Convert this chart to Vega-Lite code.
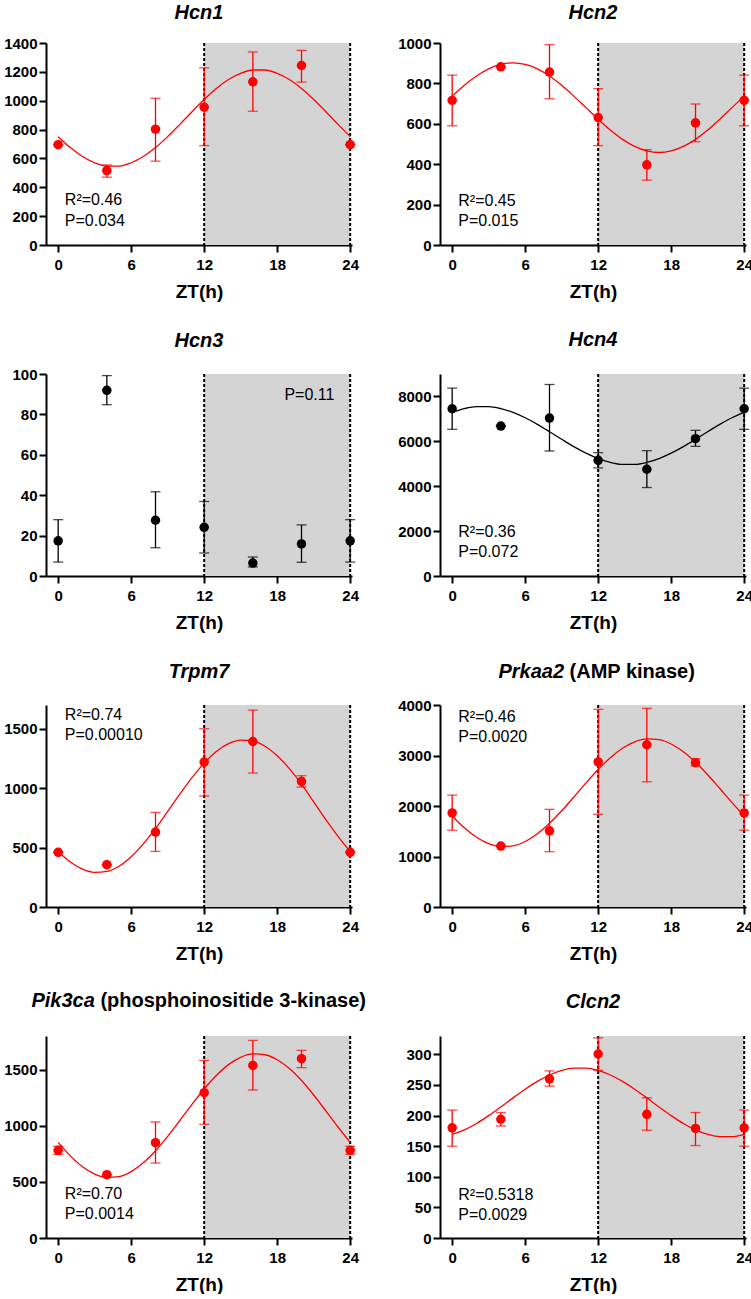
{
  "$schema": "https://vega.github.io/schema/vega-lite/v6.json",
  "background": "white",
  "padding": {"left": 3, "top": 3, "right": 0, "bottom": 0},
  "config": {
    "view": {"stroke": null},
    "font": "Liberation Sans",
    "axis": {"domainColor": "black", "domainWidth": 2, "tickColor": "black", "tickWidth": 2, "tickSize": 7, "labelFont": "Liberation Sans", "labelFontWeight": "bold", "labelFontSize": 15, "labelColor": "black", "labelOverlap": false, "grid": false, "titleFont": "Liberation Sans", "titleFontWeight": "bold", "titleFontSize": 19, "titleColor": "black", "tickCount": 20},
    "axisX": {"labelPadding": 5, "titlePadding": 10, "labelFlush": false},
    "axisY": {"labelPadding": 2},
    "title": {"font": "Liberation Sans", "fontSize": 20, "fontWeight": "bold", "fontStyle": "italic", "color": "black", "anchor": "middle", "frame": "group", "offset": 14}
  },
  "datasets": {
    "dark": [{"zt": 12, "zt_end": 24}],
    "lines": [{"zt": 12}, {"zt": 24}],
    "one": [{}],
    "hcn1_pts": [
      {"zt": 0, "mean": 695, "lo": 695, "hi": 695},
      {"zt": 4, "mean": 516, "lo": 470, "hi": 555},
      {"zt": 8, "mean": 803, "lo": 581, "hi": 1017},
      {"zt": 12, "mean": 955, "lo": 689, "hi": 1228},
      {"zt": 16, "mean": 1131, "lo": 927, "hi": 1338},
      {"zt": 20, "mean": 1244, "lo": 1129, "hi": 1349},
      {"zt": 24, "mean": 695, "lo": 695, "hi": 695}
    ],
    "hcn1_fit": [
      {"zt": 0, "value": 751}, {"zt": 1, "value": 675}, {"zt": 2, "value": 613}, {"zt": 3, "value": 570}, {"zt": 4, "value": 547}, {"zt": 5, "value": 547}, {"zt": 6, "value": 570}, {"zt": 7, "value": 613}, {"zt": 8, "value": 675}, {"zt": 9, "value": 751}, {"zt": 10, "value": 836}, {"zt": 11, "value": 924}, {"zt": 12, "value": 1009}, {"zt": 13, "value": 1085}, {"zt": 14, "value": 1147}, {"zt": 15, "value": 1190}, {"zt": 16, "value": 1213}, {"zt": 17, "value": 1213}, {"zt": 18, "value": 1190}, {"zt": 19, "value": 1147}, {"zt": 20, "value": 1085}, {"zt": 21, "value": 1009}, {"zt": 22, "value": 924}, {"zt": 23, "value": 836}, {"zt": 24, "value": 751}
    ],
    "hcn2_pts": [
      {"zt": 0, "mean": 716, "lo": 590, "hi": 841},
      {"zt": 4, "mean": 882, "lo": 882, "hi": 882},
      {"zt": 8, "mean": 856, "lo": 724, "hi": 992},
      {"zt": 12, "mean": 631, "lo": 492, "hi": 774},
      {"zt": 16, "mean": 397, "lo": 321, "hi": 472},
      {"zt": 20, "mean": 605, "lo": 511, "hi": 698},
      {"zt": 24, "mean": 716, "lo": 590, "hi": 841}
    ],
    "hcn2_fit": [
      {"zt": 0, "value": 737}, {"zt": 1, "value": 791}, {"zt": 2, "value": 837}, {"zt": 3, "value": 872}, {"zt": 4, "value": 894}, {"zt": 5, "value": 902}, {"zt": 6, "value": 894}, {"zt": 7, "value": 872}, {"zt": 8, "value": 837}, {"zt": 9, "value": 791}, {"zt": 10, "value": 737}, {"zt": 11, "value": 680}, {"zt": 12, "value": 623}, {"zt": 13, "value": 569}, {"zt": 14, "value": 523}, {"zt": 15, "value": 488}, {"zt": 16, "value": 466}, {"zt": 17, "value": 458}, {"zt": 18, "value": 466}, {"zt": 19, "value": 488}, {"zt": 20, "value": 523}, {"zt": 21, "value": 569}, {"zt": 22, "value": 623}, {"zt": 23, "value": 680}, {"zt": 24, "value": 737}
    ],
    "hcn3_pts": [
      {"zt": 0, "mean": 17.4, "lo": 6.9, "hi": 27.9},
      {"zt": 4, "mean": 91.9, "lo": 84.8, "hi": 99.2},
      {"zt": 8, "mean": 27.6, "lo": 14.0, "hi": 41.7},
      {"zt": 12, "mean": 24.1, "lo": 11.4, "hi": 36.9},
      {"zt": 16, "mean": 6.4, "lo": 4.5, "hi": 9.4},
      {"zt": 20, "mean": 15.9, "lo": 6.8, "hi": 25.3},
      {"zt": 24, "mean": 17.4, "lo": 6.9, "hi": 27.9}
    ],
    "hcn4_pts": [
      {"zt": 0, "mean": 7452, "lo": 6533, "hi": 8370},
      {"zt": 4, "mean": 6681, "lo": 6681, "hi": 6681},
      {"zt": 8, "mean": 7037, "lo": 5570, "hi": 8533},
      {"zt": 12, "mean": 5156, "lo": 4815, "hi": 5496},
      {"zt": 16, "mean": 4756, "lo": 3941, "hi": 5585},
      {"zt": 20, "mean": 6119, "lo": 5778, "hi": 6489},
      {"zt": 24, "mean": 7452, "lo": 6533, "hi": 8370}
    ],
    "hcn4_fit": [
      {"zt": 0, "value": 7288}, {"zt": 1, "value": 7457}, {"zt": 2, "value": 7545}, {"zt": 3, "value": 7545}, {"zt": 4, "value": 7457}, {"zt": 5, "value": 7288}, {"zt": 6, "value": 7049}, {"zt": 7, "value": 6756}, {"zt": 8, "value": 6429}, {"zt": 9, "value": 6091}, {"zt": 10, "value": 5764}, {"zt": 11, "value": 5471}, {"zt": 12, "value": 5232}, {"zt": 13, "value": 5063}, {"zt": 14, "value": 4975}, {"zt": 15, "value": 4975}, {"zt": 16, "value": 5063}, {"zt": 17, "value": 5232}, {"zt": 18, "value": 5471}, {"zt": 19, "value": 5764}, {"zt": 20, "value": 6091}, {"zt": 21, "value": 6429}, {"zt": 22, "value": 6756}, {"zt": 23, "value": 7049}, {"zt": 24, "value": 7288}
    ],
    "trpm7_pts": [
      {"zt": 0, "mean": 460, "lo": 460, "hi": 460},
      {"zt": 4, "mean": 356, "lo": 356, "hi": 356},
      {"zt": 8, "mean": 631, "lo": 468, "hi": 796},
      {"zt": 12, "mean": 1220, "lo": 934, "hi": 1500},
      {"zt": 16, "mean": 1393, "lo": 1127, "hi": 1657},
      {"zt": 20, "mean": 1057, "lo": 1009, "hi": 1105},
      {"zt": 24, "mean": 460, "lo": 460, "hi": 460}
    ],
    "trpm7_fit": [
      {"zt": 0, "value": 468}, {"zt": 1, "value": 378}, {"zt": 2, "value": 318}, {"zt": 3, "value": 291}, {"zt": 4, "value": 299}, {"zt": 5, "value": 343}, {"zt": 6, "value": 423}, {"zt": 7, "value": 531}, {"zt": 8, "value": 661}, {"zt": 9, "value": 804}, {"zt": 10, "value": 950}, {"zt": 11, "value": 1089}, {"zt": 12, "value": 1211}, {"zt": 13, "value": 1309}, {"zt": 14, "value": 1375}, {"zt": 15, "value": 1405}, {"zt": 16, "value": 1398}, {"zt": 17, "value": 1353}, {"zt": 18, "value": 1273}, {"zt": 19, "value": 1165}, {"zt": 20, "value": 1035}, {"zt": 21, "value": 885}, {"zt": 22, "value": 735}, {"zt": 23, "value": 595}, {"zt": 24, "value": 468}
    ],
    "prkaa2_pts": [
      {"zt": 0, "mean": 1862, "lo": 1521, "hi": 2216},
      {"zt": 4, "mean": 1206, "lo": 1206, "hi": 1206},
      {"zt": 8, "mean": 1508, "lo": 1095, "hi": 1934},
      {"zt": 12, "mean": 2872, "lo": 1836, "hi": 3915},
      {"zt": 16, "mean": 3213, "lo": 2479, "hi": 3934},
      {"zt": 20, "mean": 2859, "lo": 2793, "hi": 2938},
      {"zt": 24, "mean": 1862, "lo": 1521, "hi": 2216}
    ],
    "prkaa2_fit": [
      {"zt": 0, "value": 1802}, {"zt": 1, "value": 1568}, {"zt": 2, "value": 1381}, {"zt": 3, "value": 1254}, {"zt": 4, "value": 1196}, {"zt": 5, "value": 1211}, {"zt": 6, "value": 1297}, {"zt": 7, "value": 1449}, {"zt": 8, "value": 1657}, {"zt": 9, "value": 1905}, {"zt": 10, "value": 2178}, {"zt": 11, "value": 2457}, {"zt": 12, "value": 2722}, {"zt": 13, "value": 2956}, {"zt": 14, "value": 3143}, {"zt": 15, "value": 3270}, {"zt": 16, "value": 3328}, {"zt": 17, "value": 3313}, {"zt": 18, "value": 3227}, {"zt": 19, "value": 3075}, {"zt": 20, "value": 2867}, {"zt": 21, "value": 2619}, {"zt": 22, "value": 2346}, {"zt": 23, "value": 2067}, {"zt": 24, "value": 1802}
    ],
    "pik3ca_pts": [
      {"zt": 0, "mean": 781, "lo": 745, "hi": 817},
      {"zt": 4, "mean": 564, "lo": 564, "hi": 564},
      {"zt": 8, "mean": 849, "lo": 668, "hi": 1034},
      {"zt": 12, "mean": 1295, "lo": 1013, "hi": 1583},
      {"zt": 16, "mean": 1538, "lo": 1319, "hi": 1761},
      {"zt": 20, "mean": 1598, "lo": 1518, "hi": 1672},
      {"zt": 24, "mean": 781, "lo": 745, "hi": 817}
    ],
    "pik3ca_fit": [
      {"zt": 0, "value": 852}, {"zt": 1, "value": 732}, {"zt": 2, "value": 635}, {"zt": 3, "value": 570}, {"zt": 4, "value": 540}, {"zt": 5, "value": 547}, {"zt": 6, "value": 592}, {"zt": 7, "value": 670}, {"zt": 8, "value": 777}, {"zt": 9, "value": 906}, {"zt": 10, "value": 1047}, {"zt": 11, "value": 1191}, {"zt": 12, "value": 1328}, {"zt": 13, "value": 1448}, {"zt": 14, "value": 1545}, {"zt": 15, "value": 1610}, {"zt": 16, "value": 1640}, {"zt": 17, "value": 1633}, {"zt": 18, "value": 1588}, {"zt": 19, "value": 1510}, {"zt": 20, "value": 1403}, {"zt": 21, "value": 1274}, {"zt": 22, "value": 1133}, {"zt": 23, "value": 989}, {"zt": 24, "value": 852}
    ],
    "clcn2_pts": [
      {"zt": 0, "mean": 180, "lo": 150, "hi": 209},
      {"zt": 4, "mean": 194, "lo": 183, "hi": 205},
      {"zt": 8, "mean": 260, "lo": 248, "hi": 273},
      {"zt": 12, "mean": 300.6, "lo": 274, "hi": 327},
      {"zt": 16, "mean": 202, "lo": 176, "hi": 229},
      {"zt": 20, "mean": 179, "lo": 151, "hi": 205},
      {"zt": 24, "mean": 180, "lo": 150, "hi": 209}
    ],
    "clcn2_fit": [
      {"zt": 0, "value": 169.3}, {"zt": 1, "value": 176.7}, {"zt": 2, "value": 187.1}, {"zt": 3, "value": 199.9}, {"zt": 4, "value": 214.1}, {"zt": 5, "value": 228.9}, {"zt": 6, "value": 243.1}, {"zt": 7, "value": 255.9}, {"zt": 8, "value": 266.3}, {"zt": 9, "value": 273.7}, {"zt": 10, "value": 277.5}, {"zt": 11, "value": 277.5}, {"zt": 12, "value": 273.7}, {"zt": 13, "value": 266.3}, {"zt": 14, "value": 255.9}, {"zt": 15, "value": 243.1}, {"zt": 16, "value": 228.9}, {"zt": 17, "value": 214.1}, {"zt": 18, "value": 199.9}, {"zt": 19, "value": 187.1}, {"zt": 20, "value": 176.7}, {"zt": 21, "value": 169.3}, {"zt": 22, "value": 165.5}, {"zt": 23, "value": 165.5}, {"zt": 24, "value": 169.3}
    ]
  },
  "columns": 2,
  "bounds": "flush",
  "spacing": {"row": 129, "column": 88},
  "concat": [
    {
      "width": 306, "height": 202,
      "title": {"text": "Hcn1", "offset": 13},
      "layer": [
        {"data": {"name": "dark"}, "mark": {"type": "rect", "color": "#d4d4d4"}, "encoding": {"x": {"field": "zt", "type": "quantitative", "title": "ZT(h)", "scale": {"domain": [-1, 24.15], "nice": false, "zero": false}, "axis": {"values": [0, 6, 12, 18, 24], "format": "d", "tickCount": 20}}, "x2": {"field": "zt_end"}}},
        {"data": {"name": "lines"}, "mark": {"type": "rule", "color": "black", "strokeWidth": 2, "strokeDash": [3, 2]}, "encoding": {"x": {"field": "zt", "type": "quantitative", "title": "ZT(h)"}}},
        {"data": {"name": "hcn1_fit"}, "mark": {"type": "line", "color": "#ff0000", "strokeWidth": 1.3, "interpolate": "monotone"}, "encoding": {"x": {"field": "zt", "type": "quantitative", "title": "ZT(h)"}, "y": {"field": "value", "type": "quantitative", "title": null, "scale": {"domain": [0, 1400], "nice": false, "zero": false}, "axis": {"values": [0, 200, 400, 600, 800, 1000, 1200, 1400], "format": "d", "tickCount": 20, "labelOverlap": false}}}},
        {"data": {"name": "hcn1_pts"}, "mark": {"type": "rule", "color": "#ff0000", "strokeWidth": 1.3}, "encoding": {"x": {"field": "zt", "type": "quantitative", "title": "ZT(h)"}, "y": {"field": "lo", "type": "quantitative", "title": null}, "y2": {"field": "hi"}}},
        {"data": {"name": "hcn1_pts"}, "mark": {"type": "tick", "orient": "horizontal", "size": 10, "thickness": 1.3, "color": "#ff0000"}, "encoding": {"x": {"field": "zt", "type": "quantitative", "title": "ZT(h)"}, "y": {"field": "lo", "type": "quantitative", "title": null}}},
        {"data": {"name": "hcn1_pts"}, "mark": {"type": "tick", "orient": "horizontal", "size": 10, "thickness": 1.3, "color": "#ff0000"}, "encoding": {"x": {"field": "zt", "type": "quantitative", "title": "ZT(h)"}, "y": {"field": "hi", "type": "quantitative", "title": null}}},
        {"data": {"name": "hcn1_pts"}, "mark": {"type": "circle", "size": 90, "color": "#ff0000", "opacity": 1}, "encoding": {"x": {"field": "zt", "type": "quantitative", "title": "ZT(h)"}, "y": {"field": "mean", "type": "quantitative", "title": null}}},
        {"data": {"name": "one"}, "mark": {"type": "text", "align": "left", "baseline": "alphabetic", "fontSize": 16, "font": "Liberation Sans", "color": "black", "lineBreak": "\n", "lineHeight": 20.5}, "encoding": {"x": {"datum": 0.55}, "y": {"datum": 277}, "text": {"value": "R²=0.46\nP=0.034"}}}
      ]
    },
    {
      "width": 306, "height": 202,
      "title": {"text": "Hcn2", "offset": 13},
      "layer": [
        {"data": {"name": "dark"}, "mark": {"type": "rect", "color": "#d4d4d4"}, "encoding": {"x": {"field": "zt", "type": "quantitative", "title": "ZT(h)", "scale": {"domain": [-1, 24.15], "nice": false, "zero": false}, "axis": {"values": [0, 6, 12, 18, 24], "format": "d", "tickCount": 20}}, "x2": {"field": "zt_end"}}},
        {"data": {"name": "lines"}, "mark": {"type": "rule", "color": "black", "strokeWidth": 2, "strokeDash": [3, 2]}, "encoding": {"x": {"field": "zt", "type": "quantitative", "title": "ZT(h)"}}},
        {"data": {"name": "hcn2_fit"}, "mark": {"type": "line", "color": "#ff0000", "strokeWidth": 1.3, "interpolate": "monotone"}, "encoding": {"x": {"field": "zt", "type": "quantitative", "title": "ZT(h)"}, "y": {"field": "value", "type": "quantitative", "title": null, "scale": {"domain": [0, 1000], "nice": false, "zero": false}, "axis": {"values": [0, 200, 400, 600, 800, 1000], "format": "d", "tickCount": 20, "labelOverlap": false}}}},
        {"data": {"name": "hcn2_pts"}, "mark": {"type": "rule", "color": "#ff0000", "strokeWidth": 1.3}, "encoding": {"x": {"field": "zt", "type": "quantitative", "title": "ZT(h)"}, "y": {"field": "lo", "type": "quantitative", "title": null}, "y2": {"field": "hi"}}},
        {"data": {"name": "hcn2_pts"}, "mark": {"type": "tick", "orient": "horizontal", "size": 10, "thickness": 1.3, "color": "#ff0000"}, "encoding": {"x": {"field": "zt", "type": "quantitative", "title": "ZT(h)"}, "y": {"field": "lo", "type": "quantitative", "title": null}}},
        {"data": {"name": "hcn2_pts"}, "mark": {"type": "tick", "orient": "horizontal", "size": 10, "thickness": 1.3, "color": "#ff0000"}, "encoding": {"x": {"field": "zt", "type": "quantitative", "title": "ZT(h)"}, "y": {"field": "hi", "type": "quantitative", "title": null}}},
        {"data": {"name": "hcn2_pts"}, "mark": {"type": "circle", "size": 90, "color": "#ff0000", "opacity": 1}, "encoding": {"x": {"field": "zt", "type": "quantitative", "title": "ZT(h)"}, "y": {"field": "mean", "type": "quantitative", "title": null}}},
        {"data": {"name": "one"}, "mark": {"type": "text", "align": "left", "baseline": "alphabetic", "fontSize": 16, "font": "Liberation Sans", "color": "black", "lineBreak": "\n", "lineHeight": 20.5}, "encoding": {"x": {"datum": 0.5}, "y": {"datum": 195}, "text": {"value": "R²=0.45\nP=0.015"}}}
      ]
    },
    {
      "width": 306, "height": 202,
      "title": {"text": "Hcn3", "offset": 16},
      "layer": [
        {"data": {"name": "dark"}, "mark": {"type": "rect", "color": "#d4d4d4"}, "encoding": {"x": {"field": "zt", "type": "quantitative", "title": "ZT(h)", "scale": {"domain": [-1, 24.15], "nice": false, "zero": false}, "axis": {"values": [0, 6, 12, 18, 24], "format": "d", "tickCount": 20}}, "x2": {"field": "zt_end"}}},
        {"data": {"name": "lines"}, "mark": {"type": "rule", "color": "black", "strokeWidth": 2, "strokeDash": [3, 2]}, "encoding": {"x": {"field": "zt", "type": "quantitative", "title": "ZT(h)"}}},
        {"data": {"name": "hcn3_pts"}, "mark": {"type": "rule", "color": "black", "strokeWidth": 1.3}, "encoding": {"x": {"field": "zt", "type": "quantitative", "title": "ZT(h)"}, "y": {"field": "lo", "type": "quantitative", "title": null, "scale": {"domain": [0, 100], "nice": false, "zero": false}, "axis": {"values": [0, 20, 40, 60, 80, 100], "format": "d", "tickCount": 20, "labelOverlap": false}}, "y2": {"field": "hi"}}},
        {"data": {"name": "hcn3_pts"}, "mark": {"type": "tick", "orient": "horizontal", "size": 10, "thickness": 1.3, "color": "black"}, "encoding": {"x": {"field": "zt", "type": "quantitative", "title": "ZT(h)"}, "y": {"field": "lo", "type": "quantitative", "title": null}}},
        {"data": {"name": "hcn3_pts"}, "mark": {"type": "tick", "orient": "horizontal", "size": 10, "thickness": 1.3, "color": "black"}, "encoding": {"x": {"field": "zt", "type": "quantitative", "title": "ZT(h)"}, "y": {"field": "hi", "type": "quantitative", "title": null}}},
        {"data": {"name": "hcn3_pts"}, "mark": {"type": "circle", "size": 90, "color": "black", "opacity": 1}, "encoding": {"x": {"field": "zt", "type": "quantitative", "title": "ZT(h)"}, "y": {"field": "mean", "type": "quantitative", "title": null}}},
        {"data": {"name": "one"}, "mark": {"type": "text", "align": "right", "baseline": "alphabetic", "fontSize": 16, "font": "Liberation Sans", "color": "black"}, "encoding": {"x": {"datum": 22.7}, "y": {"datum": 87.3}, "text": {"value": "P=0.11"}}}
      ]
    },
    {
      "width": 306, "height": 202,
      "title": {"text": "Hcn4", "offset": 23},
      "layer": [
        {"data": {"name": "dark"}, "mark": {"type": "rect", "color": "#d4d4d4"}, "encoding": {"x": {"field": "zt", "type": "quantitative", "title": "ZT(h)", "scale": {"domain": [-1, 24.15], "nice": false, "zero": false}, "axis": {"values": [0, 6, 12, 18, 24], "format": "d", "tickCount": 20}}, "x2": {"field": "zt_end"}}},
        {"data": {"name": "lines"}, "mark": {"type": "rule", "color": "black", "strokeWidth": 2, "strokeDash": [3, 2]}, "encoding": {"x": {"field": "zt", "type": "quantitative", "title": "ZT(h)"}}},
        {"data": {"name": "hcn4_fit"}, "mark": {"type": "line", "color": "black", "strokeWidth": 1.3, "interpolate": "monotone"}, "encoding": {"x": {"field": "zt", "type": "quantitative", "title": "ZT(h)"}, "y": {"field": "value", "type": "quantitative", "title": null, "scale": {"domain": [0, 9000], "nice": false, "zero": false}, "axis": {"values": [0, 2000, 4000, 6000, 8000], "format": "d", "tickCount": 20, "labelOverlap": false}}}},
        {"data": {"name": "hcn4_pts"}, "mark": {"type": "rule", "color": "black", "strokeWidth": 1.3}, "encoding": {"x": {"field": "zt", "type": "quantitative", "title": "ZT(h)"}, "y": {"field": "lo", "type": "quantitative", "title": null}, "y2": {"field": "hi"}}},
        {"data": {"name": "hcn4_pts"}, "mark": {"type": "tick", "orient": "horizontal", "size": 10, "thickness": 1.3, "color": "black"}, "encoding": {"x": {"field": "zt", "type": "quantitative", "title": "ZT(h)"}, "y": {"field": "lo", "type": "quantitative", "title": null}}},
        {"data": {"name": "hcn4_pts"}, "mark": {"type": "tick", "orient": "horizontal", "size": 10, "thickness": 1.3, "color": "black"}, "encoding": {"x": {"field": "zt", "type": "quantitative", "title": "ZT(h)"}, "y": {"field": "hi", "type": "quantitative", "title": null}}},
        {"data": {"name": "hcn4_pts"}, "mark": {"type": "circle", "size": 90, "color": "black", "opacity": 1}, "encoding": {"x": {"field": "zt", "type": "quantitative", "title": "ZT(h)"}, "y": {"field": "mean", "type": "quantitative", "title": null}}},
        {"data": {"name": "one"}, "mark": {"type": "text", "align": "left", "baseline": "alphabetic", "fontSize": 16, "font": "Liberation Sans", "color": "black", "lineBreak": "\n", "lineHeight": 20.5}, "encoding": {"x": {"datum": 0.5}, "y": {"datum": 1751}, "text": {"value": "R²=0.36\nP=0.072"}}}
      ]
    },
    {
      "width": 306, "height": 202,
      "title": {"text": "Trpm7", "offset": 22},
      "layer": [
        {"data": {"name": "dark"}, "mark": {"type": "rect", "color": "#d4d4d4"}, "encoding": {"x": {"field": "zt", "type": "quantitative", "title": "ZT(h)", "scale": {"domain": [-1, 24.15], "nice": false, "zero": false}, "axis": {"values": [0, 6, 12, 18, 24], "format": "d", "tickCount": 20}}, "x2": {"field": "zt_end"}}},
        {"data": {"name": "lines"}, "mark": {"type": "rule", "color": "black", "strokeWidth": 2, "strokeDash": [3, 2]}, "encoding": {"x": {"field": "zt", "type": "quantitative", "title": "ZT(h)"}}},
        {"data": {"name": "trpm7_fit"}, "mark": {"type": "line", "color": "#ff0000", "strokeWidth": 1.3, "interpolate": "monotone"}, "encoding": {"x": {"field": "zt", "type": "quantitative", "title": "ZT(h)"}, "y": {"field": "value", "type": "quantitative", "title": null, "scale": {"domain": [0, 1700], "nice": false, "zero": false}, "axis": {"values": [0, 500, 1000, 1500], "format": "d", "tickCount": 20, "labelOverlap": false}}}},
        {"data": {"name": "trpm7_pts"}, "mark": {"type": "rule", "color": "#ff0000", "strokeWidth": 1.3}, "encoding": {"x": {"field": "zt", "type": "quantitative", "title": "ZT(h)"}, "y": {"field": "lo", "type": "quantitative", "title": null}, "y2": {"field": "hi"}}},
        {"data": {"name": "trpm7_pts"}, "mark": {"type": "tick", "orient": "horizontal", "size": 10, "thickness": 1.3, "color": "#ff0000"}, "encoding": {"x": {"field": "zt", "type": "quantitative", "title": "ZT(h)"}, "y": {"field": "lo", "type": "quantitative", "title": null}}},
        {"data": {"name": "trpm7_pts"}, "mark": {"type": "tick", "orient": "horizontal", "size": 10, "thickness": 1.3, "color": "#ff0000"}, "encoding": {"x": {"field": "zt", "type": "quantitative", "title": "ZT(h)"}, "y": {"field": "hi", "type": "quantitative", "title": null}}},
        {"data": {"name": "trpm7_pts"}, "mark": {"type": "circle", "size": 90, "color": "#ff0000", "opacity": 1}, "encoding": {"x": {"field": "zt", "type": "quantitative", "title": "ZT(h)"}, "y": {"field": "mean", "type": "quantitative", "title": null}}},
        {"data": {"name": "one"}, "mark": {"type": "text", "align": "left", "baseline": "alphabetic", "fontSize": 16, "font": "Liberation Sans", "color": "black", "lineBreak": "\n", "lineHeight": 20.5}, "encoding": {"x": {"datum": 0.55}, "y": {"datum": 1575}, "text": {"value": "R²=0.74\nP=0.00010"}}}
      ]
    },
    {
      "width": 306, "height": 202,
      "layer": [
        {"data": {"name": "dark"}, "mark": {"type": "rect", "color": "#d4d4d4"}, "encoding": {"x": {"field": "zt", "type": "quantitative", "title": "ZT(h)", "scale": {"domain": [-1, 24.15], "nice": false, "zero": false}, "axis": {"values": [0, 6, 12, 18, 24], "format": "d", "tickCount": 20}}, "x2": {"field": "zt_end"}}},
        {"data": {"name": "lines"}, "mark": {"type": "rule", "color": "black", "strokeWidth": 2, "strokeDash": [3, 2]}, "encoding": {"x": {"field": "zt", "type": "quantitative", "title": "ZT(h)"}}},
        {"data": {"name": "prkaa2_fit"}, "mark": {"type": "line", "color": "#ff0000", "strokeWidth": 1.3, "interpolate": "monotone"}, "encoding": {"x": {"field": "zt", "type": "quantitative", "title": "ZT(h)"}, "y": {"field": "value", "type": "quantitative", "title": null, "scale": {"domain": [0, 4000], "nice": false, "zero": false}, "axis": {"values": [0, 1000, 2000, 3000, 4000], "format": "d", "tickCount": 20, "labelOverlap": false}}}},
        {"data": {"name": "prkaa2_pts"}, "mark": {"type": "rule", "color": "#ff0000", "strokeWidth": 1.3}, "encoding": {"x": {"field": "zt", "type": "quantitative", "title": "ZT(h)"}, "y": {"field": "lo", "type": "quantitative", "title": null}, "y2": {"field": "hi"}}},
        {"data": {"name": "prkaa2_pts"}, "mark": {"type": "tick", "orient": "horizontal", "size": 10, "thickness": 1.3, "color": "#ff0000"}, "encoding": {"x": {"field": "zt", "type": "quantitative", "title": "ZT(h)"}, "y": {"field": "lo", "type": "quantitative", "title": null}}},
        {"data": {"name": "prkaa2_pts"}, "mark": {"type": "tick", "orient": "horizontal", "size": 10, "thickness": 1.3, "color": "#ff0000"}, "encoding": {"x": {"field": "zt", "type": "quantitative", "title": "ZT(h)"}, "y": {"field": "hi", "type": "quantitative", "title": null}}},
        {"data": {"name": "prkaa2_pts"}, "mark": {"type": "circle", "size": 90, "color": "#ff0000", "opacity": 1}, "encoding": {"x": {"field": "zt", "type": "quantitative", "title": "ZT(h)"}, "y": {"field": "mean", "type": "quantitative", "title": null}}},
        {"data": {"name": "one"}, "mark": {"type": "text", "align": "left", "baseline": "alphabetic", "fontSize": 16, "font": "Liberation Sans", "color": "black", "lineBreak": "\n", "lineHeight": 20.5}, "encoding": {"x": {"datum": 0.5}, "y": {"datum": 3672}, "text": {"value": "R²=0.46\nP=0.0020"}}},
        {"data": {"name": "one"}, "mark": {"type": "text", "align": "right", "baseline": "alphabetic", "fontSize": 20, "fontWeight": "bold", "fontStyle": "italic", "font": "Liberation Sans", "color": "black"}, "encoding": {"x": {"datum": 9.2}, "y": {"datum": 4538}, "text": {"value": "Prkaa2"}}},
        {"data": {"name": "one"}, "mark": {"type": "text", "align": "left", "baseline": "alphabetic", "fontSize": 20, "fontWeight": "bold", "font": "Liberation Sans", "color": "black"}, "encoding": {"x": {"datum": 9.65}, "y": {"datum": 4538}, "text": {"value": "(AMP kinase)"}}}
      ]
    },
    {
      "width": 306, "height": 202,
      "layer": [
        {"data": {"name": "dark"}, "mark": {"type": "rect", "color": "#d4d4d4"}, "encoding": {"x": {"field": "zt", "type": "quantitative", "title": "ZT(h)", "scale": {"domain": [-1, 24.15], "nice": false, "zero": false}, "axis": {"values": [0, 6, 12, 18, 24], "format": "d", "tickCount": 20}}, "x2": {"field": "zt_end"}}},
        {"data": {"name": "lines"}, "mark": {"type": "rule", "color": "black", "strokeWidth": 2, "strokeDash": [3, 2]}, "encoding": {"x": {"field": "zt", "type": "quantitative", "title": "ZT(h)"}}},
        {"data": {"name": "pik3ca_fit"}, "mark": {"type": "line", "color": "#ff0000", "strokeWidth": 1.3, "interpolate": "monotone"}, "encoding": {"x": {"field": "zt", "type": "quantitative", "title": "ZT(h)"}, "y": {"field": "value", "type": "quantitative", "title": null, "scale": {"domain": [0, 1800], "nice": false, "zero": false}, "axis": {"values": [0, 500, 1000, 1500], "format": "d", "tickCount": 20, "labelOverlap": false}}}},
        {"data": {"name": "pik3ca_pts"}, "mark": {"type": "rule", "color": "#ff0000", "strokeWidth": 1.3}, "encoding": {"x": {"field": "zt", "type": "quantitative", "title": "ZT(h)"}, "y": {"field": "lo", "type": "quantitative", "title": null}, "y2": {"field": "hi"}}},
        {"data": {"name": "pik3ca_pts"}, "mark": {"type": "tick", "orient": "horizontal", "size": 10, "thickness": 1.3, "color": "#ff0000"}, "encoding": {"x": {"field": "zt", "type": "quantitative", "title": "ZT(h)"}, "y": {"field": "lo", "type": "quantitative", "title": null}}},
        {"data": {"name": "pik3ca_pts"}, "mark": {"type": "tick", "orient": "horizontal", "size": 10, "thickness": 1.3, "color": "#ff0000"}, "encoding": {"x": {"field": "zt", "type": "quantitative", "title": "ZT(h)"}, "y": {"field": "hi", "type": "quantitative", "title": null}}},
        {"data": {"name": "pik3ca_pts"}, "mark": {"type": "circle", "size": 90, "color": "#ff0000", "opacity": 1}, "encoding": {"x": {"field": "zt", "type": "quantitative", "title": "ZT(h)"}, "y": {"field": "mean", "type": "quantitative", "title": null}}},
        {"data": {"name": "one"}, "mark": {"type": "text", "align": "left", "baseline": "alphabetic", "fontSize": 16, "font": "Liberation Sans", "color": "black", "lineBreak": "\n", "lineHeight": 20.5}, "encoding": {"x": {"datum": 0.55}, "y": {"datum": 350}, "text": {"value": "R²=0.70\nP=0.0014"}}},
        {"data": {"name": "one"}, "mark": {"type": "text", "align": "right", "baseline": "alphabetic", "fontSize": 20, "fontWeight": "bold", "fontStyle": "italic", "font": "Liberation Sans", "color": "black"}, "encoding": {"x": {"datum": 3.01}, "y": {"datum": 2059}, "text": {"value": "Pik3ca"}}},
        {"data": {"name": "one"}, "mark": {"type": "text", "align": "left", "baseline": "alphabetic", "fontSize": 20, "fontWeight": "bold", "font": "Liberation Sans", "color": "black"}, "encoding": {"x": {"datum": 3.47}, "y": {"datum": 2059}, "text": {"value": "(phosphoinositide 3-kinase)"}}}
      ]
    },
    {
      "width": 306, "height": 202,
      "title": {"text": "Clcn2", "offset": 23},
      "layer": [
        {"data": {"name": "dark"}, "mark": {"type": "rect", "color": "#d4d4d4"}, "encoding": {"x": {"field": "zt", "type": "quantitative", "title": "ZT(h)", "scale": {"domain": [-1, 24.15], "nice": false, "zero": false}, "axis": {"values": [0, 6, 12, 18, 24], "format": "d", "tickCount": 20}}, "x2": {"field": "zt_end"}}},
        {"data": {"name": "lines"}, "mark": {"type": "rule", "color": "black", "strokeWidth": 2, "strokeDash": [3, 2]}, "encoding": {"x": {"field": "zt", "type": "quantitative", "title": "ZT(h)"}}},
        {"data": {"name": "clcn2_fit"}, "mark": {"type": "line", "color": "#ff0000", "strokeWidth": 1.3, "interpolate": "monotone"}, "encoding": {"x": {"field": "zt", "type": "quantitative", "title": "ZT(h)"}, "y": {"field": "value", "type": "quantitative", "title": null, "scale": {"domain": [0, 330], "nice": false, "zero": false}, "axis": {"values": [0, 50, 100, 150, 200, 250, 300], "format": "d", "tickCount": 20, "labelOverlap": false}}}},
        {"data": {"name": "clcn2_pts"}, "mark": {"type": "rule", "color": "#ff0000", "strokeWidth": 1.3}, "encoding": {"x": {"field": "zt", "type": "quantitative", "title": "ZT(h)"}, "y": {"field": "lo", "type": "quantitative", "title": null}, "y2": {"field": "hi"}}},
        {"data": {"name": "clcn2_pts"}, "mark": {"type": "tick", "orient": "horizontal", "size": 10, "thickness": 1.3, "color": "#ff0000"}, "encoding": {"x": {"field": "zt", "type": "quantitative", "title": "ZT(h)"}, "y": {"field": "lo", "type": "quantitative", "title": null}}},
        {"data": {"name": "clcn2_pts"}, "mark": {"type": "tick", "orient": "horizontal", "size": 10, "thickness": 1.3, "color": "#ff0000"}, "encoding": {"x": {"field": "zt", "type": "quantitative", "title": "ZT(h)"}, "y": {"field": "hi", "type": "quantitative", "title": null}}},
        {"data": {"name": "clcn2_pts"}, "mark": {"type": "circle", "size": 90, "color": "#ff0000", "opacity": 1}, "encoding": {"x": {"field": "zt", "type": "quantitative", "title": "ZT(h)"}, "y": {"field": "mean", "type": "quantitative", "title": null}}},
        {"data": {"name": "one"}, "mark": {"type": "text", "align": "left", "baseline": "alphabetic", "fontSize": 16, "font": "Liberation Sans", "color": "black", "lineBreak": "\n", "lineHeight": 20.5}, "encoding": {"x": {"datum": 0.5}, "y": {"datum": 62.6}, "text": {"value": "R²=0.5318\nP=0.0029"}}}
      ]
    }
  ]
}
